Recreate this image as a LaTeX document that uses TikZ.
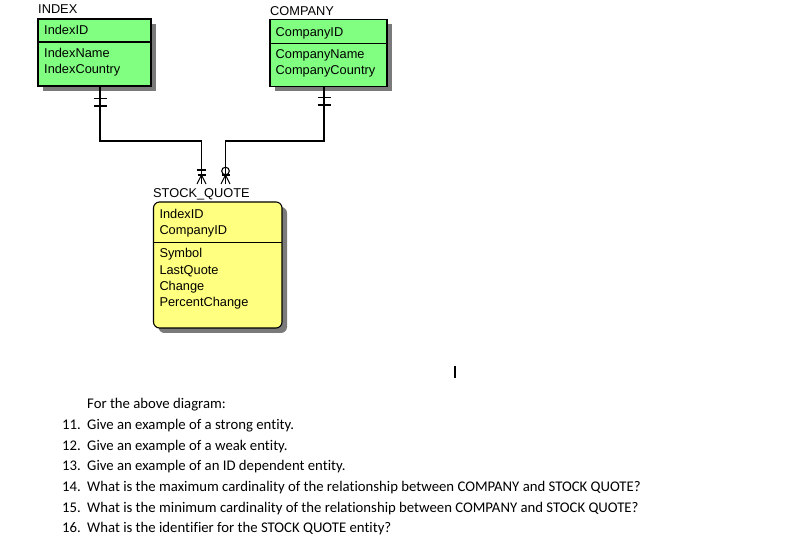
\documentclass[tikz,border=0pt]{standalone}
\usepackage{fontspec}
\setmainfont{Liberation Sans}
\newfontfamily\qfont[Ligatures=NoCommon]{Carlito}
\definecolor{entgreen}{HTML}{80FF80}
\definecolor{entyellow}{HTML}{FFFF80}
\definecolor{shadowgray}{HTML}{7A7A7A}
\begin{document}
\begin{tikzpicture}[x=1pt,y=-1pt,
  entbox/.style={draw, line width=1.1pt, anchor=north west, inner sep=0pt, outer sep=0pt},
  attr/.style={anchor=base west, inner sep=0pt, font=\fontsize{12.8}{15}\selectfont},
  elabel/.style={anchor=base west, inner sep=0pt, font=\fontsize{12.8}{15}\selectfont},
  qtext/.style={anchor=base west, inner sep=0pt, font=\qfont\fontsize{14.75}{17}\selectfont},
  conn/.style={line width=1.1pt},
  markline/.style={line width=1.1pt}]
\useasboundingbox (0,0) rectangle (788,545);
\fill[white] (0,0) rectangle (788,545);

% shadows
\fill[shadowgray] (43,24) rectangle (156,91);
\fill[shadowgray] (275,24.5) rectangle (392,91.5);
\fill[shadowgray, rounded corners=6pt] (158.5,207) rectangle (287,333);

% entity boxes
\node[entbox, fill=entgreen, minimum width=113pt, minimum height=67pt] (index) at (38,19) {};
\draw[line width=1.1pt] (index.west |- 0,42) -- (index.east |- 0,42);
\node[entbox, fill=entgreen, minimum width=117pt, minimum height=67pt] (company) at (270,19.5) {};
\draw[line width=1.1pt] (company.west |- 0,43.3) -- (company.east |- 0,43.3);
\node[entbox, fill=entyellow, rounded corners=6pt, minimum width=128.5pt, minimum height=126pt] (stock) at (153.5,202) {};
\draw[line width=1.1pt] (stock.west |- 0,242.3) -- (stock.east |- 0,242.3);

% entity labels
\node[elabel] (lindex) at (38,13.5) {INDEX};
\node[elabel] (lcompany) at (270,15.5) {COMPANY};
\node[elabel] (lstock) at (153,198) {STOCK\_QUOTE};

% attributes
\node[attr] (a1) at (44,34.3) {IndexID};
\node[attr] (a2) at (44,57.5) {IndexName};
\node[attr] (a3) at (44,74) {IndexCountry};
\node[attr] (b1) at (275.5,36.5) {CompanyID};
\node[attr] (b2) at (275.5,58.5) {CompanyName};
\node[attr] (b3) at (275.5,75) {CompanyCountry};
\node[attr] (c1) at (159.3,219) {IndexID};
\node[attr] (c2) at (159.3,235) {CompanyID};
\node[attr] (c3) at (159.3,258) {Symbol};
\node[attr] (c4) at (159.3,274.3) {LastQuote};
\node[attr] (c5) at (159.3,290.3) {Change};
\node[attr] (c6) at (159.3,306.3) {PercentChange};

% connector anchors
\coordinate (iA) at ([xshift=62pt]index.south west);
\coordinate (cA) at ([xshift=54pt]company.south west);
\coordinate (fL) at ([xshift=48pt,yshift=18pt]stock.north west);
\coordinate (fR) at ([xshift=72pt,yshift=18pt]stock.north west);

% connectors
\draw[conn] (iA) -- ++(0,55) -| (fL);
\draw[conn] (cA) -- ++(0,54.5) -| (fR);

% one-and-only-one at INDEX
\draw[markline] (iA) ++(-6.5,12.5) -- ++(13,0);
\draw[markline] (iA) ++(-6.5,20) -- ++(13,0);
% one-and-only-one at COMPANY
\draw[markline] (cA) ++(-6.5,11) -- ++(13,0);
\draw[markline] (cA) ++(-6.5,18.5) -- ++(13,0);

% one-or-many at STOCK_QUOTE (left)
\draw[markline] (fL) ++(-4.8,-14) -- ++(9.6,0);
\draw[markline] (fL) ++(-4,-9) -- ++(8,0);
\draw[markline] (fL) ++(0,-9) -- ++(-4.5,9);
\draw[markline] (fL) ++(0,-9) -- ++(4.5,9);
% zero-or-many at STOCK_QUOTE (right)
\draw[markline] (fR) ++(0,-13) circle[radius=3.8];
\draw[markline] (fR) ++(-4,-9) -- ++(8,0);
\draw[markline] (fR) ++(0,-9) -- ++(-4.5,9);
\draw[markline] (fR) ++(0,-9) -- ++(4.5,9);

% text cursor
\draw[line width=1.3pt] (455,366) -- (455,378);

% questions
\node[qtext] (q0) at (87,409) {For the above diagram:};
\node[qtext] (n11) at (62,430) {11.};
\node[qtext] (t11) at (87,430) {Give an example of a strong entity.};
\node[qtext] (n12) at (62,450.5) {12.};
\node[qtext] (t12) at (87,450.5) {Give an example of a weak entity.};
\node[qtext] (n13) at (62,471) {13.};
\node[qtext] (t13) at (87,471) {Give an example of an ID dependent entity.};
\node[qtext] (n14) at (62,491.5) {14.};
\node[qtext] (t14) at (87,491.5) {What is the maximum cardinality of the relationship between COMPANY and STOCK QUOTE?};
\node[qtext] (n15) at (62,512) {15.};
\node[qtext] (t15) at (87,512) {What is the minimum cardinality of the relationship between COMPANY and STOCK QUOTE?};
\node[qtext] (n16) at (62,532.5) {16.};
\node[qtext] (t16) at (87,532.5) {What is the identifier for the STOCK QUOTE entity?};
\end{tikzpicture}
\end{document}
